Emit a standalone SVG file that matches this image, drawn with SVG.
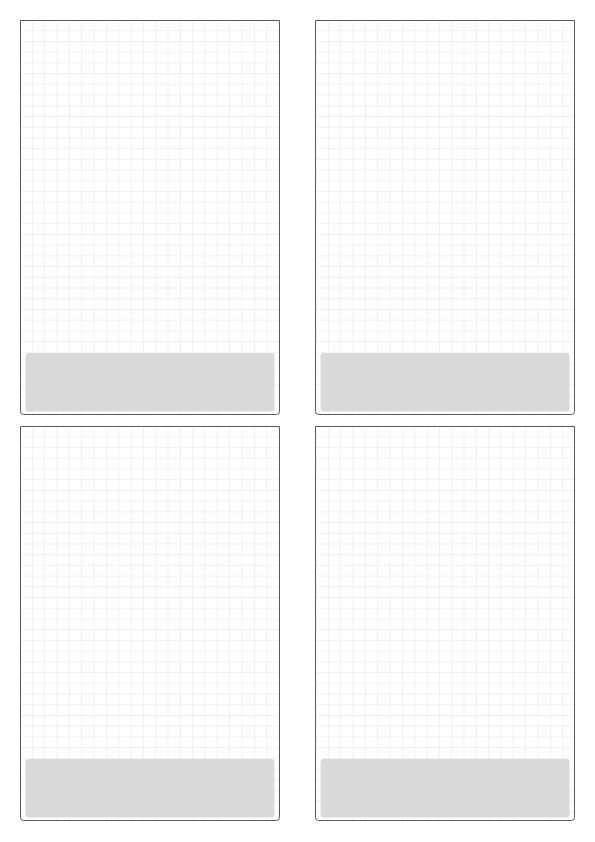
<svg xmlns="http://www.w3.org/2000/svg" width="595" height="842" viewBox="0 0 595 842">
  <defs>
    <style>
      .frame { fill: none; stroke: #5a5a5a; stroke-width: 1; }
      .box { fill: #d9d9d9; stroke: none; }
    </style>
    <pattern id="gridpat" patternUnits="userSpaceOnUse" x="20.5" y="20.5" width="12.3333" height="10.72">
      <path d="M12.3333 0 V10.72 M0 10.72 H12.3333" fill="none" stroke="#e3e3e3" stroke-width="1"/>
    </pattern>
    <pattern id="gridpat2" patternUnits="userSpaceOnUse" x="20.5" y="426.5" width="12.3333" height="10.72">
      <path d="M12.3333 0 V10.72 M0 10.72 H12.3333" fill="none" stroke="#e3e3e3" stroke-width="1"/>
    </pattern>
  </defs>
  <rect width="595" height="842" fill="#ffffff"/>
  <g id="panel1">
    <rect x="20.5" y="20.5" width="259" height="394" fill="url(#gridpat)"/>
    <rect class="box" x="25.5" y="353" width="249" height="58.5" rx="3"/>
    <path class="frame" d="M20.5 20.5 H279.5 V411.5 Q279.5 414.5 276.5 414.5 H23.5 Q20.5 414.5 20.5 411.5 Z"/>
  </g>
  <g id="panel2">
    <rect x="315.5" y="20.5" width="259" height="394" fill="url(#gridpat)"/>
    <rect class="box" x="320.5" y="353" width="249" height="58.5" rx="3"/>
    <path class="frame" d="M315.5 20.5 H574.5 V411.5 Q574.5 414.5 571.5 414.5 H318.5 Q315.5 414.5 315.5 411.5 Z"/>
  </g>
  <g id="panel3">
    <rect x="20.5" y="426.5" width="259" height="394" fill="url(#gridpat2)"/>
    <rect class="box" x="25.5" y="759" width="249" height="58.5" rx="3"/>
    <path class="frame" d="M20.5 426.5 H279.5 V817.5 Q279.5 820.5 276.5 820.5 H23.5 Q20.5 820.5 20.5 817.5 Z"/>
  </g>
  <g id="panel4">
    <rect x="315.5" y="426.5" width="259" height="394" fill="url(#gridpat2)"/>
    <rect class="box" x="320.5" y="759" width="249" height="58.5" rx="3"/>
    <path class="frame" d="M315.5 426.5 H574.5 V817.5 Q574.5 820.5 571.5 820.5 H318.5 Q315.5 820.5 315.5 817.5 Z"/>
  </g>
  <g id="connectors"></g>
</svg>
